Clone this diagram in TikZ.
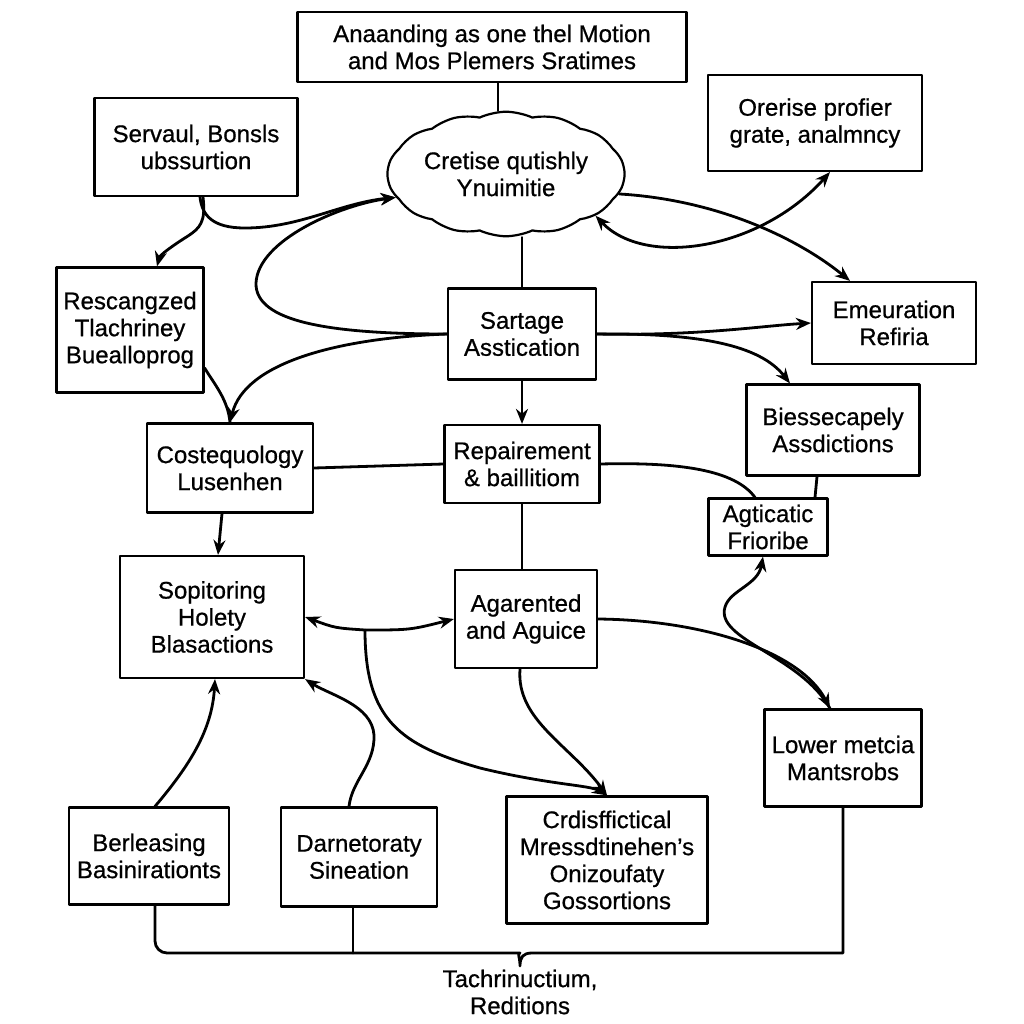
\documentclass[tikz,border=0pt]{standalone}
\usepackage{fontspec}
\setmainfont{Liberation Sans}[BoldFont={Liberation Sans},BoldFeatures={FakeBold=0.7}]
\usetikzlibrary{arrows.meta,shapes.symbols}
\begin{document}
\begin{tikzpicture}[x=1pt,y=-1pt,>={Stealth[length=15pt,width=12pt]},line join=round,line cap=round,font=\fontsize{24}{27}\selectfont\bfseries]
	\tikzset{hop/.style={draw,line width=2.2pt,align=center,inner sep=3pt},
		lien/.style={line width=2.8pt}}
	\fill[white] (0,0) rectangle (1024,1024);
	\useasboundingbox (0,0) rectangle (1024,1024);
	% cac hop
	\node[hop,minimum width=389,minimum height=70] (top) at (492,47) {Anaanding as one thel Motion\\and Mos Plemers Sratimes};
	\node[cloud,draw,line width=2.2pt,cloud puffs=14,cloud puff arc=50,aspect=2,minimum width=237,minimum height=118,inner sep=0pt,align=center] (cloud) at (506,174) {Cretise qutishly\\Ynuimitie};
	\node[hop,minimum width=203,minimum height=98] (serv) at (196,147) {Servaul, Bonsls\\ubssurtion};
	\node[hop,minimum width=214,minimum height=96] (orer) at (815,123) {Orerise profier\\grate, analmncy};
	\node[hop,minimum width=147,minimum height=125] (resc) at (130,330) {Rescangzed\\Tlachriney\\Buealloprog};
	\node[hop,minimum width=148,minimum height=91] (sart) at (522,334) {Sartage\\Asstication};
	\node[hop,minimum width=164,minimum height=82] (emeu) at (894,323) {Emeuration\\Refiria};
	\node[hop,minimum width=166,minimum height=89] (cost) at (230,468) {Costequology\\Lusenhen};
	\node[hop,minimum width=155,minimum height=78] (repa) at (522,464) {Repairement\\\& baillitiom};
	\node[hop,minimum width=173,minimum height=91] (bies) at (833,430) {Biessecapely\\Assdictions};
	\node[hop,minimum width=119,minimum height=57,inner sep=1pt] (agti) at (768,527) {Agticatic\\Frioribe};
	\node[hop,minimum width=184,minimum height=122] (sopi) at (212,617) {Sopitoring\\Holety\\Blasactions};
	\node[hop,minimum width=142,minimum height=98] (agar) at (526,619) {Agarented\\and Aguice};
	\node[hop,minimum width=157,minimum height=97] (lowe) at (843,758) {Lower metcia\\Mantsrobs};
	\node[hop,minimum width=160,minimum height=97] (berl) at (149,856) {Berleasing\\Basinirationts};
	\node[hop,minimum width=156,minimum height=99] (darn) at (359,857) {Darnetoraty\\Sineation};
	\node[hop,minimum width=201,minimum height=127] (crdi) at (607,860) {Crdisffictical\\Mressdtinehen's\\Onizoufaty\\Gossortions};
	\node[align=center] (tach) at (520,992) {Tachrinuctium,\\Reditions};
	\coordinate (giua) at (365,630);
	% duong noi
	\draw[lien] ([xshift=6pt]top.south) -- ([xshift=6pt]top.south |- cloud.north);
	\draw[lien] (cloud.south -| sart.north) -- (sart.north);
	\draw[lien,->] (sart) -- (repa);
	\draw[lien] (repa.south) -- (repa.south |- agar.north);
	\draw[lien] (cost.east) -- (repa.west);
	\draw[lien] ([xshift=-16pt]bies.south) -- ([xshift=47pt]agti.north);
	\draw[lien,->] ([xshift=-8pt]cost.south) -- ([xshift=6pt]sopi.north);
	\draw[lien,->] ([xshift=4pt]serv.south) .. controls (202,215) and (212,228) .. (245,228) .. controls (300,228) and (340,203) .. (cloud.192);
	\draw[lien,->] ([xshift=7pt]serv.south) .. controls (206,222) and (200,228) .. (188,236) .. controls (172,246) and (160,255) .. ([xshift=27pt]resc.north);
	\draw[lien,->] (sart.west) .. controls (330,334) and (255,322) .. (256,283) .. controls (258,240) and (340,205) .. (cloud.192);
	\draw[lien,->] (sart.west) .. controls (340,338) and (245,362) .. (cost.north);
	\draw[lien] ([yshift=-38pt]resc.east) .. controls (215,385) and (228,400) .. (cost.north);
	\draw[lien,->] (sart.east) .. controls (700,336) and (760,326) .. (emeu.west);
	\draw[lien,->] (sart.east) .. controls (700,333) and (760,345) .. ([xshift=-43pt]bies.north);
	\draw[lien,->] (cloud.-10) .. controls (720,200) and (800,240) .. ([xshift=-44pt]emeu.north);
	\draw[lien,<->] (cloud.-25) .. controls (645,268) and (760,250) .. ([xshift=15pt]orer.south);
	\draw[lien] (repa.east) .. controls (680,462) and (735,470) .. ([xshift=-13pt]agti.north);
	\draw[lien,->] (agar.east) .. controls (700,620) and (800,650) .. ([xshift=-13pt]lowe.north);
	\draw[lien,->] ([xshift=-13pt]lowe.north) .. controls (800,655) and (715,640) .. (725,607) .. controls (730,590) and (758,585) .. ([xshift=-5pt]agti.south);
	\draw[lien,<->] (sopi.east) .. controls (335,628) .. (giua) .. controls (410,630) .. (agar.west);
	\draw[lien,->] (giua) .. controls (365,720) and (400,745) .. (480,768) .. controls (550,785) and (590,785) .. (crdi.north);
	\draw[lien,->] ([xshift=-6pt]agar.south) .. controls (516,720) and (570,745) .. (crdi.north);
	\draw[lien,->] ([xshift=6pt]berl.north) .. controls (190,765) and (212,730) .. ([xshift=3pt]sopi.south);
	\draw[lien,->] ([xshift=-10pt]darn.north) .. controls (352,780) and (375,765) .. (374,735) .. controls (372,705) and (330,695) .. (sopi.south east);
	\draw[lien,rounded corners=12pt] ([xshift=6pt]berl.south) |- (508,953) [sharp corners] .. controls (517,953) and (520,957) .. (520,966) .. controls (520,957) and (523,953) .. (532,953) -| (lowe.south);
	\draw[lien] ([xshift=-6pt]darn.south) -- ([xshift=-6pt]darn.south |- 0,953);
\end{tikzpicture}
\end{document}
